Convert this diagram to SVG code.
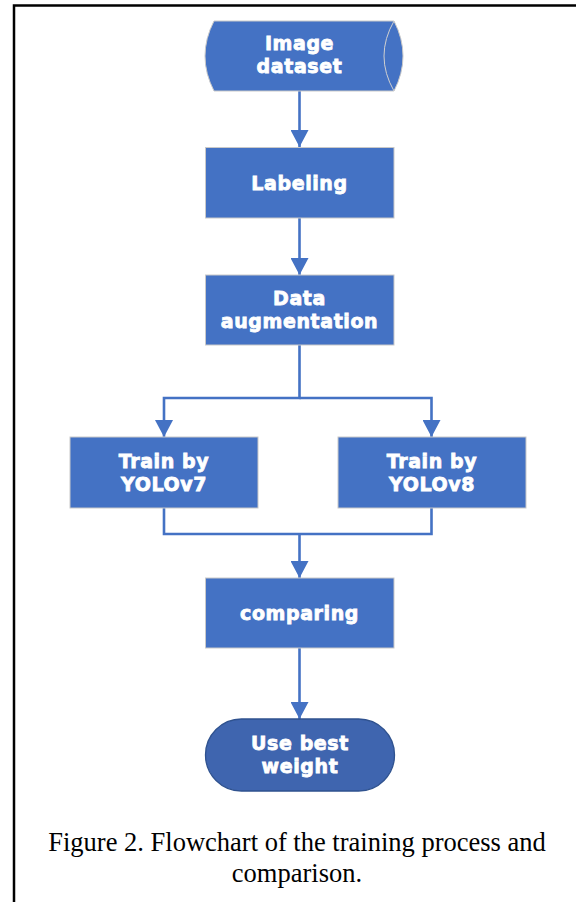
<svg xmlns="http://www.w3.org/2000/svg" width="576" height="902" viewBox="0 0 576 902">
<defs>
<style>
.box{fill:#4472c4;stroke:#c9c9c9;stroke-width:1}
.term{fill:#3f65af;stroke:#2f528f;stroke-width:1.3}
.lbl{font-family:"DejaVu Sans",sans-serif;font-weight:bold;font-size:19px;fill:#ffffff;stroke:#ffffff;stroke-width:0.8px;letter-spacing:0.6px;text-anchor:middle}
.conn{fill:none;stroke:#4472c4;stroke-width:2.6}
.cap{font-family:"Liberation Serif",serif;font-size:26.5px;fill:#000;text-anchor:middle}
</style>
<marker id="arr" markerUnits="userSpaceOnUse" markerWidth="18" markerHeight="18" viewBox="0 0 17 18" refX="17" refY="9" orient="auto">
<path d="M0,0 L17,9 L0,18 Z" fill="#4472c4"/>
</marker>
</defs>
<rect x="14" y="5.5" width="620" height="960" fill="#ffffff" stroke="#000" stroke-width="2.5"/>
<g id="connectors">
<path class="conn" d="M299.5,91 V147" marker-end="url(#arr)"/>
<path class="conn" d="M299.5,218 V275" marker-end="url(#arr)"/>
<path class="conn" d="M299.5,345 V398 H164 V437" marker-end="url(#arr)"/>
<path class="conn" d="M299.5,398 H431.5 V437" marker-end="url(#arr)"/>
<path class="conn" d="M164,508 V534 H431.5 V508"/>
<path class="conn" d="M299.5,534 V578" marker-end="url(#arr)"/>
<path class="conn" d="M299.5,648 V719" marker-end="url(#arr)"/>
</g>
<g id="image-dataset">
<path class="box" d="M214,21 L394,21 Q412,56 394,91 L214,91 Q196,56 214,21 Z"/>
<path d="M394,21 Q374,56 394,91" fill="none" stroke="#d0d0d0" stroke-width="1"/>
<text class="lbl" x="299.5" y="50">Image</text>
<text class="lbl" x="299.5" y="73">dataset</text>
</g>
<g id="labeling">
<rect class="box" x="205.5" y="147.5" width="188.5" height="70.5"/>
<text class="lbl" x="299.5" y="189.5">Labeling</text>
</g>
<g id="data-augmentation">
<rect class="box" x="205.5" y="275" width="188.5" height="70"/>
<text class="lbl" x="299.5" y="304.5">Data</text>
<text class="lbl" x="299.5" y="328">augmentation</text>
</g>
<g id="train-yolov7">
<rect class="box" x="70" y="437" width="188" height="71"/>
<text class="lbl" x="164" y="467.5">Train by</text>
<text class="lbl" x="164" y="491">YOLOv7</text>
</g>
<g id="train-yolov8">
<rect class="box" x="338" y="437" width="188" height="71"/>
<text class="lbl" x="432" y="467.5">Train by</text>
<text class="lbl" x="432" y="491">YOLOv8</text>
</g>
<g id="comparing">
<rect class="box" x="205.5" y="578" width="188.5" height="70"/>
<text class="lbl" x="299.5" y="619.5">comparing</text>
</g>
<g id="use-best-weight">
<rect class="term" x="205.5" y="719" width="189" height="72" rx="36" ry="36"/>
<text class="lbl" x="300" y="750">Use best</text>
<text class="lbl" x="300" y="773">weight</text>
</g>
<g id="caption">
<text class="cap" x="297" y="851">Figure 2. Flowchart of the training process and</text>
<text class="cap" x="297" y="882">comparison.</text>
</g>
</svg>
